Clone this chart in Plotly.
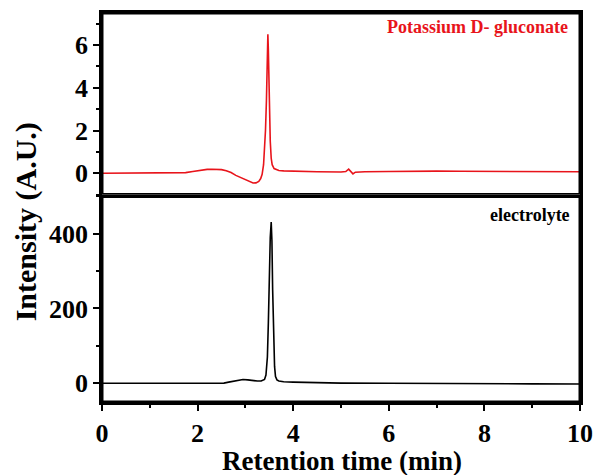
import plotly.graph_objects as go
from plotly.subplots import make_subplots

# Potassium D-gluconate (top, red)
x_top = [0.0, 0.5, 1.0, 1.5, 1.75, 1.9, 2.05, 2.2, 2.3, 2.4, 2.5, 2.6, 2.7, 2.8, 2.9, 3.0,
         3.1, 3.16, 3.22, 3.28, 3.32, 3.35, 3.38, 3.40, 3.42, 3.44, 3.46, 3.47, 3.48, 3.50,
         3.52, 3.54, 3.56, 3.60, 3.65, 3.70, 3.8, 4.0, 4.5, 5.0, 5.10, 5.16, 5.21, 5.25,
         5.30, 5.5, 6.0, 6.5, 7.0, 7.5, 8.0, 8.5, 9.0, 9.5, 10.0]
y_top = [0.0, 0.0, 0.0, 0.01, 0.03, 0.08, 0.14, 0.18, 0.19, 0.19, 0.17, 0.12, 0.03, -0.10, -0.20, -0.33,
         -0.42, -0.46, -0.45, -0.38, -0.25, -0.05, 0.4, 1.0, 2.0, 3.4, 5.5, 6.5, 5.8, 3.2,
         1.5, 0.7, 0.4, 0.22, 0.16, 0.13, 0.11, 0.09, 0.07, 0.06, 0.08, 0.19, 0.06, -0.03,
         0.05, 0.07, 0.08, 0.10, 0.10, 0.09, 0.08, 0.08, 0.07, 0.07, 0.07]

# Electrolyte (bottom, black)
x_bot = [0.0, 0.5, 1.0, 1.5, 2.0, 2.4, 2.55, 2.65, 2.75, 2.85, 2.95, 3.05, 3.15, 3.25, 3.33,
         3.40, 3.43, 3.46, 3.48, 3.50, 3.52, 3.54, 3.555, 3.57, 3.59, 3.61, 3.63, 3.66, 3.70,
         3.8, 4.0, 4.5, 5.0, 6.0, 7.0, 8.0, 9.0, 10.0]
y_bot = [0.0, 0.0, 0.0, 0.0, 0.0, 0.0, 0.5, 3, 5, 7, 10, 9, 7, 6, 6,
         10, 22, 70, 160, 290, 390, 431, 380, 250, 120, 45, 18, 9, 6,
         4, 3, 1.5, 0.5, 0, -1, -1, -1.5, -2]

# axis ranges
x_range = [0, 10]
y_top_range = [-1.0, 7.5]
y_bot_range = [-50, 504]

tick_font = dict(family="Liberation Serif", size=26, color="black", weight="bold")

fig = make_subplots(rows=2, cols=1, shared_xaxes=True, vertical_spacing=0,
                    row_heights=[183 / 392, 209 / 392])

fig.add_trace(go.Scatter(x=x_top, y=y_top, mode="lines",
                         line=dict(color="#e8141b", width=1.6), showlegend=False), row=1, col=1)
fig.add_trace(go.Scatter(x=x_bot, y=y_bot, mode="lines",
                         line=dict(color="black", width=1.6), showlegend=False), row=2, col=1)

# panel frames drawn as traces along the axis ranges
for (yr, row) in ((y_top_range, 1), (y_bot_range, 2)):
    fig.add_trace(go.Scatter(x=[x_range[0], x_range[1], x_range[1], x_range[0], x_range[0]],
                             y=[yr[0], yr[0], yr[1], yr[1], yr[0]],
                             mode="lines", line=dict(color="black", width=3),
                             cliponaxis=False, hoverinfo="skip", showlegend=False),
                  row=row, col=1)

axis_common = dict(showgrid=False, zeroline=False, tickfont=tick_font,
                   showline=True, linecolor="black", linewidth=2.5, mirror=True)

fig.update_xaxes(range=x_range, **axis_common)
fig.update_xaxes(ticks="", showticklabels=False, row=1, col=1)
fig.update_xaxes(ticks="outside", ticklen=6, tickwidth=2, tickcolor="black", mirror=False,
                 tickvals=[0, 2, 4, 6, 8, 10],
                 minor=dict(ticks="outside", ticklen=3, tickwidth=2, dtick=1, tick0=0, tickcolor="black"),
                 row=2, col=1)

fig.update_yaxes(**axis_common)
fig.update_yaxes(range=y_top_range, tickvals=[0, 2, 4, 6], ticks="outside", ticklen=6, tickwidth=2,
                 tickcolor="black",
                 minor=dict(ticks="outside", ticklen=3, tickwidth=2, dtick=1, tick0=-1, tickcolor="black"),
                 row=1, col=1)
fig.update_yaxes(range=y_bot_range, tickvals=[0, 200, 400], ticks="outside", ticklen=6, tickwidth=2,
                 tickcolor="black",
                 minor=dict(ticks="outside", ticklen=3, tickwidth=2, dtick=100, tick0=0, tickcolor="black"),
                 row=2, col=1)

fig.add_annotation(text="Potassium D- gluconate", xref="paper", yref="paper",
                   x=(576 - 102) / 484, y=1 - (24.5 - 10) / 392, xanchor="right", yanchor="middle",
                   showarrow=False,
                   font=dict(family="Liberation Serif", size=18, color="#e8141b", weight="bold"))
fig.add_annotation(text="electrolyte", xref="paper", yref="paper",
                   x=(578 - 102) / 484, y=1 - (214 - 10) / 392, xanchor="right", yanchor="middle",
                   showarrow=False,
                   font=dict(family="Liberation Serif", size=18, color="black", weight="bold"))
fig.add_annotation(text="Intensity (A.U.)", xref="paper", yref="paper",
                   x=(25 - 102) / 484, y=1 - (220 - 10) / 392, xanchor="center", yanchor="middle",
                   textangle=-90, showarrow=False,
                   font=dict(family="Liberation Serif", size=30, color="black", weight="bold"))
fig.add_annotation(text="Retention time (min)", xref="paper", yref="paper",
                   x=(345 - 102) / 484, y=1 - (461 - 10) / 392, xanchor="center", yanchor="middle",
                   showarrow=False,
                   font=dict(family="Liberation Serif", size=27, color="black", weight="bold"))

fig.update_layout(width=603, height=475, margin=dict(l=102, r=17, t=10, b=73),
                  paper_bgcolor="white", plot_bgcolor="white")

fig.write_html("out.html")
